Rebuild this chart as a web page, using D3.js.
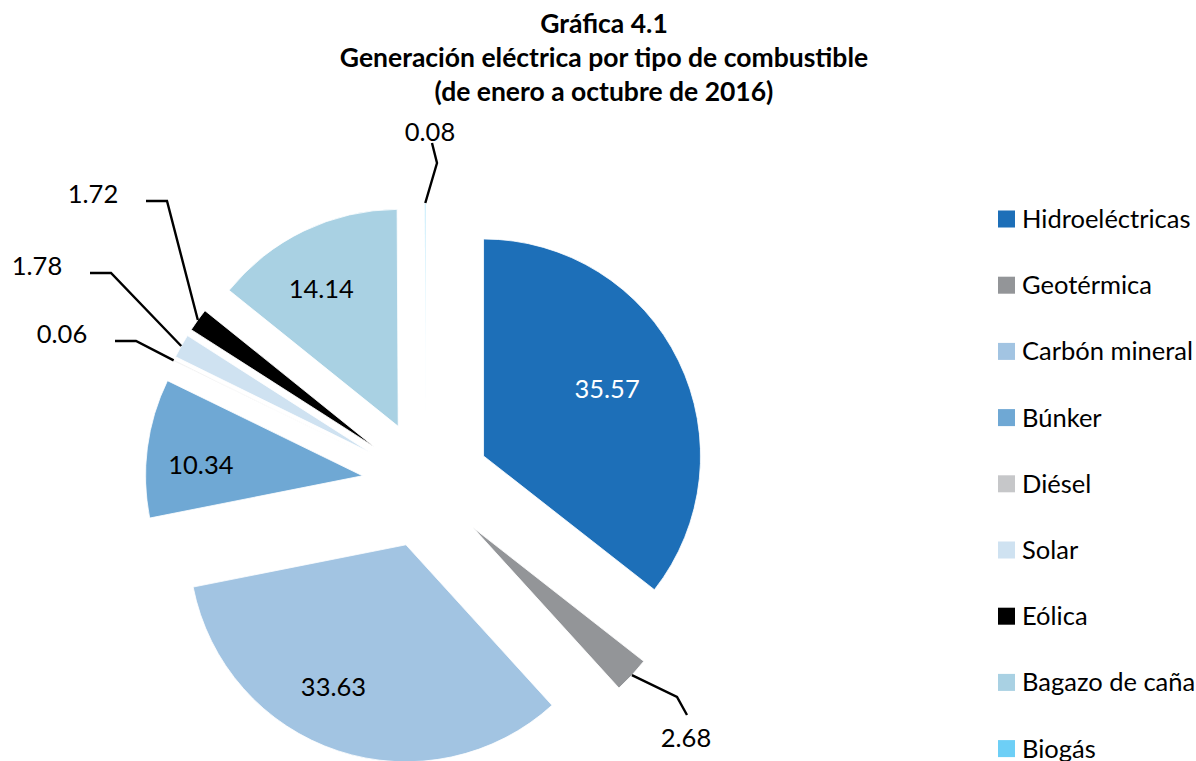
<!DOCTYPE html>
<html>
<head>
<meta charset="utf-8">
<script src="https://cdn.jsdelivr.net/npm/d3@7"></script>
<style>
  body { margin: 0; background: #fff; }
  svg { font-family: Lato, "Open Sans", sans-serif; }
</style>
</head>
<body>
<svg id="chart" width="1196" height="761"></svg>
<script>
// data
var categories = ["Hidroeléctricas", "Geotérmica", "Carbón mineral", "Búnker", "Diésel",
                  "Solar", "Eólica", "Bagazo de caña", "Biogás"];
var values = [35.57, 2.68, 33.63, 10.34, 0.06, 1.78, 1.72, 14.14, 0.08];
var colors = ["#1d6fb8", "#939598", "#a2c4e2", "#6fa8d4", "#c6c7c9",
              "#cfe2f1", "#000000", "#a9d1e3", "#6dcff6"];
var titleLines = ["Gráfica 4.1", "Generación eléctrica por tipo de combustible",
                  "(de enero a octubre de 2016)"];

// layout
var cx = 426, cy = 484, radius = 217, explode = 64;
// small nudges for the labels placed inside the big slices
var labelNudge = {
    "Hidroeléctricas": [-13, 0],
    "Carbón mineral": [-25, -2],
    "Búnker": [-11, 9],
    "Bagazo de caña": [-11, 0]
};
// labels outside the pie: text position for the small slices
var callouts = {
    "Geotérmica": {x: 686, y: 738, side: "bottom"},
    "Diésel": {x: 62, y: 334, side: "left"},
    "Solar": {x: 37, y: 266, side: "left"},
    "Eólica": {x: 93, y: 194, side: "left"},
    "Biogás": {x: 430, y: 132, side: "top"}
};

var svg = d3.select("#chart");
var fmt = d3.format(".2f");

// title
svg.append("g").selectAll("text")
    .data(titleLines)
    .enter().append("text")
    .attr("x", 604)
    .attr("y", function(d, i) { return 33 + i * 34; })
    .attr("text-anchor", "middle")
    .style("font-weight", "bold")
    .style("font-size", "26.5px")
    .text(function(d) { return d; });

var pie = d3.pie().sort(null).value(function(d) { return d.value; });
var arc = d3.arc().innerRadius(0).outerRadius(radius);

var data = categories.map(function(c, i) {
    return {name: c, value: values[i], color: colors[i]};
});
var arcs = pie(data);

function mid(d) { return (d.startAngle + d.endAngle) / 2; }
function offset(d, r) {
    var a = mid(d);
    return [Math.sin(a) * r, -Math.cos(a) * r];
}

var g = svg.append("g").attr("transform", "translate(" + cx + "," + cy + ")");

var slices = g.selectAll(".slice")
    .data(arcs)
    .enter().append("g")
    .attr("class", "slice")
    .attr("transform", function(d) {
        var o = offset(d, explode);
        return "translate(" + o[0] + "," + o[1] + ")";
    });

slices.append("path")
    .attr("d", arc)
    .style("fill", function(d) { return d.data.color; })
    .style("stroke", "#fff")
    .style("stroke-width", 0.8);

// labels inside the big slices
slices.filter(function(d) { return !callouts[d.data.name]; })
    .append("text")
    .attr("transform", function(d) {
        var o = offset(d, radius * 0.7);
        var n = labelNudge[d.data.name] || [0, 0];
        return "translate(" + (o[0] + n[0]) + "," + (o[1] + n[1]) + ")";
    })
    .attr("text-anchor", "middle")
    .attr("dy", "0.35em")
    .style("font-size", "25.5px")
    .style("fill", function(d) { return d.data.name == "Hidroeléctricas" ? "#fff" : "#000"; })
    .text(function(d) { return fmt(d.data.value); });

// callout labels with leader lines
var out = arcs.filter(function(d) { return callouts[d.data.name]; });
out.forEach(function(d) {
    var c = callouts[d.data.name];
    var o1 = offset(d, explode);
    var o2 = offset(d, radius);
    var start = [cx + o1[0] + o2[0], cy + o1[1] + o2[1]];
    var pts;
    if (c.side == "left") {
        var ex = c.x + 53, ey = c.y + 7;
        pts = [start, [ex + 21, ey], [ex, ey]];
    } else if (c.side == "bottom") {
        pts = [start, [c.x - 9, c.y - 41], [c.x + 1, c.y - 23]];
    } else {
        pts = [start, [c.x + 7, c.y + 31], [c.x + 2, c.y + 11]];
    }
    svg.append("path")
        .attr("d", d3.line()(pts))
        .style("fill", "none")
        .style("stroke", "#000")
        .style("stroke-width", 2.4);
    svg.append("text")
        .attr("x", c.x)
        .attr("y", c.y)
        .attr("dy", "0.35em")
        .attr("text-anchor", "middle")
        .style("font-size", "25.5px")
        .text(fmt(d.data.value));
});

// legend
var legend = svg.append("g").attr("transform", "translate(998,0)");
var rows = legend.selectAll(".row")
    .data(data)
    .enter().append("g")
    .attr("class", "row")
    .attr("transform", function(d, i) { return "translate(0," + (219 + i * 66.2) + ")"; });
rows.append("rect")
    .attr("x", 0).attr("y", -8.5)
    .attr("width", 17).attr("height", 17)
    .style("fill", function(d) { return d.color; });
rows.append("text")
    .attr("x", 24)
    .attr("dy", "0.35em")
    .style("font-size", "25.5px")
    .text(function(d) { return d.name; });
</script>
</body>
</html>
